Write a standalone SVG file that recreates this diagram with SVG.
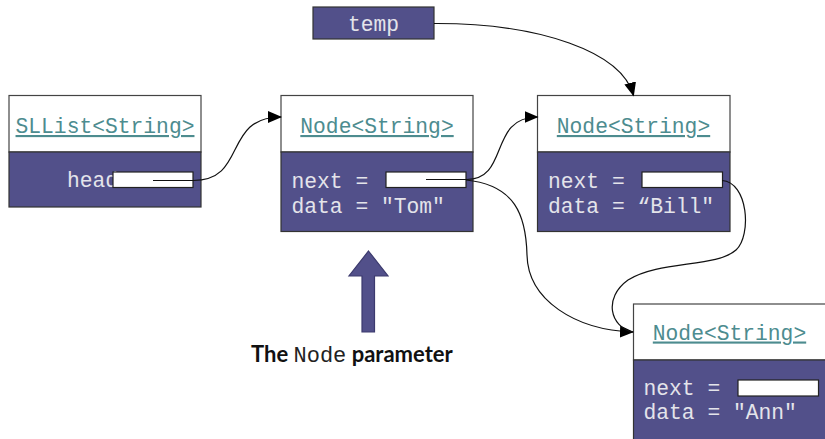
<svg xmlns="http://www.w3.org/2000/svg" width="825" height="439" viewBox="0 0 825 439">
<defs>
<style>
.top{fill:#ffffff;stroke:#444;stroke-width:1.2}
.body{fill:#52508a;stroke:#333;stroke-width:1.2}
.field{fill:#ffffff;stroke:#222;stroke-width:1.2}
.title{font-family:"Liberation Mono",monospace;font-size:21.3px;fill:#4d8c8f;text-decoration:underline;text-anchor:middle}
.code{font-family:"Liberation Mono",monospace;font-size:21.3px;fill:#e4e4ea}
.wire{fill:none;stroke:#111;stroke-width:1.2}
.cap{font-family:"Lato","Noto Sans",sans-serif;font-size:22px;font-weight:bold;fill:#111}
.capm{font-family:"Liberation Mono",monospace;font-size:22px;font-weight:normal;fill:#222}
</style>
<marker id="ah" markerWidth="14" markerHeight="12" refX="13" refY="6" orient="auto" markerUnits="userSpaceOnUse">
<path d="M0,0 L14,6 L0,12 Z" fill="#000"/>
</marker>
</defs>
<rect width="825" height="439" fill="#ffffff"/>

<g id="temp">
<rect x="313" y="7" width="121" height="32" class="body"/>
<text x="373.5" y="30.5" class="code" text-anchor="middle">temp</text>
</g>

<g id="sllist">
<rect x="9" y="95.5" width="192" height="56.5" class="top"/>
<rect x="9" y="152" width="192" height="55" class="body"/>
<text x="105" y="133" class="title">SLList&lt;String&gt;</text>
<text x="67" y="187" class="code">head</text>
<rect x="113" y="172" width="80" height="15.5" class="field"/>
</g>

<g id="node1">
<rect x="281" y="95.5" width="192" height="56.5" class="top"/>
<rect x="281" y="152" width="192" height="79.5" class="body"/>
<text x="377" y="133" class="title">Node&lt;String&gt;</text>
<text x="291.5" y="188" class="code">next =</text>
<text x="291.5" y="213" class="code">data = "Tom"</text>
<rect x="386" y="172" width="80" height="15.5" class="field"/>
</g>

<g id="node2">
<rect x="537.5" y="95.5" width="192.5" height="56.5" class="top"/>
<rect x="537.5" y="152" width="192.5" height="79.5" class="body"/>
<text x="633.5" y="133" class="title">Node&lt;String&gt;</text>
<text x="548" y="188" class="code">next =</text>
<text x="548" y="213" class="code">data = “Bill"</text>
<rect x="642" y="172" width="80.5" height="15.5" class="field"/>
</g>

<g id="node3">
<rect x="633.5" y="304" width="200" height="56" class="top"/>
<rect x="633.5" y="360" width="200" height="90" class="body"/>
<text x="729.5" y="339.5" class="title">Node&lt;String&gt;</text>
<text x="643.5" y="394.5" class="code">next =</text>
<text x="643.5" y="418.5" class="code">data = "Ann"</text>
<rect x="738" y="380" width="80.5" height="16" class="field"/>
</g>

<g id="connectors">
<path class="wire" d="M153,180.5 L193,180.5 C248,180.5 222,117 281,117" marker-end="url(#ah)"/>
<path class="wire" d="M426,179.5 L466,179.5 C510,180 488,117 537.5,117" marker-end="url(#ah)"/>
<path class="wire" d="M466,180 C515,185 526,215 527,255 C528,300 575,330 633,332" marker-end="url(#ah)"/>
<path class="wire" d="M722,180.5 C748,182 752,235 736,250 C716,268 660,260 628,280 C603,298 610,327 633,332"/>
<path class="wire" d="M434,23.5 C540,23 622,52 633.5,95.5" marker-end="url(#ah)"/>
</g>

<g id="param">
<polygon points="368.5,251 388,276 374.5,276 374.5,332 362,332 362,276 349,276" fill="#52508a" stroke="#3c3a6e" stroke-width="1.2"/>
<text x="251" y="362" class="cap">The <tspan class="capm">Node</tspan> parameter</text>
</g>
</svg>
